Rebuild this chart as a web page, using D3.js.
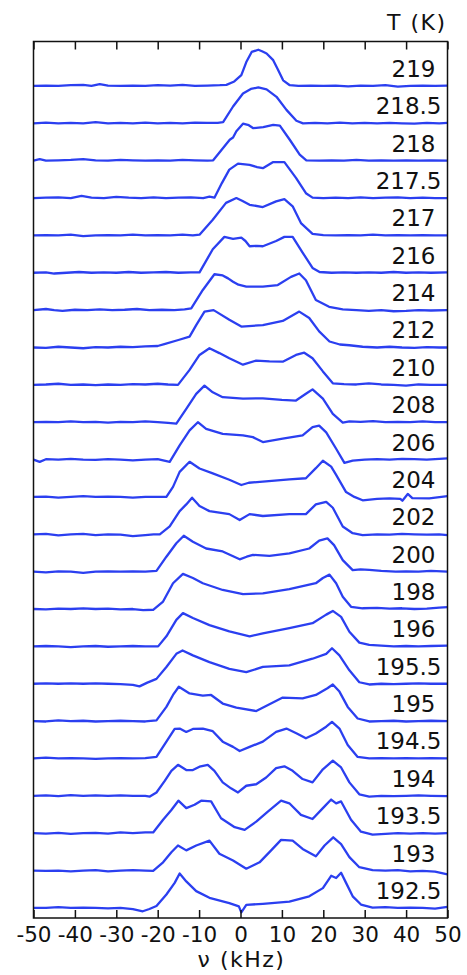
<!DOCTYPE html>
<html>
<head>
<meta charset="utf-8">
<script src="https://cdn.jsdelivr.net/npm/d3@7"></script>
<style>
body { margin: 0; background: #fff; }
text { font-family: "DejaVu Sans", sans-serif; fill: #111; }
.trace { fill: none; stroke: #2b3ff0; stroke-width: 2.3; stroke-linejoin: round; }
.axis line { stroke: #111; stroke-width: 1.5; }
.axis path { display: none; }
</style>
</head>
<body>
<script>
// temperatures, top trace first
var temperatures = ["219", "218.5", "218", "217.5", "217", "216", "214", "212",
    "210", "208", "206", "204", "202", "200", "198", "196", "195.5", "195",
    "194.5", "194", "193.5", "193", "192.5"];

// spectra: [frequency (kHz), intensity], one list per temperature
var spectra = [
  [[-50,0],[-47,0.01],[-44,0],[-41,0.02],[-38,0.03],[-36,0],[-34,0.05],[-32,0.01],[-29,0],[-26,0.01],[-23,0],[-20,0.02],[-17,0.01],[-14,0.03],[-11,0],[-8,0.01],[-5,0.02],[-3.4,0.03],[-1.5,0.12],[0.2,0.29],[1.4,0.64],[2.7,0.91],[4.3,0.97],[5.2,0.93],[6.3,0.87],[7.9,0.69],[9,0.45],[10.3,0.15],[11.9,0.02],[14,0],[17,0.01],[20,0],[23,0.01],[26,-0.01],[29,0.01],[32,0],[35,0.02],[38,-0.02],[41,0],[44,0.01],[47,0],[50,0.01]],
  [[-50,0],[-47,0.02],[-44,0],[-41,0.01],[-38,0],[-35,0.03],[-32,0],[-29,0.01],[-26,0],[-23,0.02],[-20,0],[-17,0.01],[-14,0],[-11,0.02],[-8,0.01],[-5.5,0.01],[-4.2,0.03],[-1.8,0.45],[0.6,0.8],[2.5,0.92],[4.3,0.96],[6.3,0.91],[8.7,0.71],[11.1,0.36],[13.5,0.07],[15.1,0],[18,0.01],[21,0],[24,0.02],[27,0],[30,0.01],[33,0],[36,0.01],[39,0],[42,-0.01],[45,0.01],[48,0],[50,0.01]],
  [[-50,0],[-48.5,0.04],[-47,0],[-44,0.01],[-41,0.02],[-38,0.04],[-35,0.01],[-32,0],[-29,0.02],[-26,0.01],[-23,0],[-20,0.01],[-17,0],[-14,0.02],[-11,0.01],[-8,0],[-6.6,0.01],[-4.5,0.3],[-2.6,0.56],[-1.8,0.62],[-1.0,0.79],[0.6,0.99],[2,0.95],[3.1,0.87],[5.5,0.9],[7.9,0.96],[9.5,0.94],[11.9,0.56],[14.3,0.16],[15.9,0.01],[19,0],[22,0.01],[25,0],[28,0.02],[31,0],[34,0.01],[37,0],[40,0.01],[43,0],[46,0.01],[50,0]],
  [[-50,0],[-47,0.01],[-44,0.02],[-41,0],[-38.4,0.06],[-36,0.01],[-33,0],[-30,0.03],[-27,0.01],[-24,0],[-21,0.02],[-18,0],[-15,0.01],[-12,0.02],[-9,0],[-7.5,0.04],[-6.3,0.01],[-4.5,0.4],[-2.7,0.76],[-0.6,0.92],[2.2,0.89],[4,0.83],[5.4,0.8],[7.8,0.96],[10.6,0.96],[13.4,0.54],[15.8,0.13],[17.4,0.01],[20,0],[23,0.01],[26,0],[29,0.02],[32,0],[35,0.01],[38,0.02],[41,0],[44,0.01],[47,0],[50,0]],
  [[-50,0],[-47,0.01],[-44,0],[-41,0.02],[-38,-0.02],[-35,0],[-32,0.01],[-29,0],[-26,0.02],[-23,0],[-20,0.01],[-17,0],[-14,0.02],[-11.5,0],[-9.9,0.02],[-6.7,0.42],[-3.5,0.87],[-1.0,1.0],[0.5,0.92],[2.2,0.82],[5.4,0.76],[8.6,0.91],[10.6,0.97],[12.6,0.78],[14.6,0.33],[17.4,0.04],[20,0.01],[23,0],[26,0.01],[29,0],[32,0.02],[35,0],[38,0.01],[41,0],[44,0.01],[47,0],[50,0]],
  [[-50,0],[-47,0.01],[-45,-0.02],[-42,0],[-39,0.02],[-36,0],[-33,0.01],[-30,0],[-27,0.02],[-24,0],[-21,0.01],[-18,0.02],[-15,0],[-12,0.01],[-9.9,0.01],[-6.7,0.63],[-3.9,0.96],[-1.8,0.91],[0.2,0.94],[1.2,0.85],[2.2,0.71],[4,0.72],[5.4,0.71],[8.6,0.85],[10.6,0.96],[12.6,0.96],[15.0,0.54],[17.4,0.13],[19.1,0.02],[22,0],[25,0.01],[28,0],[31,0.01],[34,0],[37,0.02],[40,0],[43,0.01],[46,0],[50,0.01]],
  [[-50,0],[-47,0.03],[-45,0],[-43,-0.02],[-40,0.01],[-37,0],[-34,0.02],[-31,0],[-28,0.01],[-25,0.03],[-22,0],[-19,0.01],[-16,0],[-13.5,0.02],[-11.9,0.05],[-9.1,0.54],[-6.3,0.96],[-4.3,0.93],[-3,0.85],[-1.8,0.76],[-0.5,0.68],[1.4,0.63],[5.4,0.63],[9.0,0.67],[12.2,0.89],[14.2,0.98],[15.8,0.8],[18.2,0.27],[21.4,0.09],[24.7,0.02],[28,0],[31,-0.02],[34,0],[37,-0.03],[40,-0.02],[43,0],[46,-0.01],[50,0]],
  [[-50,0],[-47,-0.01],[-44,0.02],[-41,0],[-38,-0.02],[-35,0.01],[-32,0],[-29,0.02],[-26,0.01],[-23,0.03],[-20,0.04],[-18.4,0.09],[-15,0.2],[-12.3,0.29],[-10.7,0.6],[-8.7,0.96],[-6.5,1.0],[-5.9,0.96],[-2.7,0.74],[0.2,0.56],[5.4,0.6],[10.2,0.71],[14.2,0.96],[16.6,0.79],[19.0,0.43],[21.5,0.16],[24,0.08],[26.3,0.06],[29.5,0.02],[33,0],[36,0.02],[39,0],[42,-0.01],[45,0.01],[48,0],[50,0]],
  [[-50,0],[-47,0.01],[-44,0.03],[-41,0],[-38,0.01],[-35,-0.01],[-32,0.01],[-29,0],[-26,0.02],[-23,0.01],[-20,0.03],[-17.5,0.01],[-15.1,0],[-12.3,0.4],[-9.9,0.8],[-7.5,0.98],[-5.1,0.85],[-2.7,0.71],[0.6,0.54],[3.8,0.65],[7,0.63],[10.2,0.62],[13.4,0.8],[15.4,0.86],[17.4,0.71],[19.9,0.36],[22.3,0.04],[25,0.02],[28,0.01],[31,0.04],[34,0.01],[37,0],[40,-0.02],[43,0.01],[46,0],[50,0]],
  [[-50,0],[-47,0.01],[-44,0],[-41,0.02],[-38,0],[-35,0.01],[-32,-0.01],[-29,0.01],[-26,0],[-23,0.02],[-20,0],[-17.5,-0.02],[-15.5,-0.04],[-13.1,0.36],[-10.7,0.76],[-8.7,0.98],[-6.7,0.8],[-4.3,0.67],[0.6,0.63],[5.4,0.64],[10,0.6],[13.4,0.58],[15.8,0.76],[17.4,0.88],[19.9,0.63],[22.3,0.22],[24.7,-0.01],[26.3,0.02],[29,0.01],[32,0.03],[35,0],[38,0.01],[41,0],[44,0.02],[47,0],[50,0]],
  [[-50,0],[-48.5,-0.06],[-47,0.01],[-44,0],[-41,0.02],[-38,0],[-35,-0.01],[-32,0.01],[-29,0],[-26,-0.02],[-23,0],[-20,0.01],[-17.1,-0.06],[-14.7,0.38],[-12.3,0.78],[-10.3,1.0],[-8.3,0.82],[-4.3,0.69],[0.6,0.65],[3,0.6],[5.4,0.47],[10.2,0.56],[15.0,0.65],[17.4,0.87],[19.0,0.91],[20.7,0.73],[23.1,0.29],[25.1,-0.09],[27.1,-0.03],[30,0],[33,0.01],[36,0],[39,0.02],[42,0.01],[45,0],[48,0.02],[50,0.03]],
  [[-50,0],[-47,0.01],[-44,-0.02],[-41,0],[-38,0.02],[-35,0],[-32,0.01],[-29,0],[-26,-0.02],[-23,0],[-20,0],[-17.9,0],[-16.3,0.27],[-14.7,0.67],[-12.3,0.94],[-9.9,0.76],[-6.7,0.63],[-2.7,0.46],[0.2,0.32],[2,0.38],[5.4,0.41],[11.8,0.47],[15.8,0.5],[18.2,0.77],[19.9,0.97],[21.9,0.81],[23.1,0.59],[25.5,0.13],[27.5,0],[29.5,-0.09],[33,-0.05],[36,-0.04],[38.6,-0.05],[39.1,-0.1],[40.4,0.08],[41.5,-0.03],[45.6,-0.04],[50,0.02]],
  [[-50,0],[-47,0.01],[-44,-0.03],[-41,0],[-38,0.01],[-35,-0.02],[-32,0],[-29,-0.01],[-26,-0.05],[-23,-0.02],[-21,0],[-19.5,0],[-17.1,0.21],[-14.7,0.62],[-13.1,0.8],[-11.7,0.98],[-9.9,0.76],[-7.5,0.62],[-2.7,0.54],[-0.2,0.38],[2.2,0.54],[5.4,0.49],[11.8,0.54],[15.8,0.54],[18.2,0.8],[20.7,0.87],[22.3,0.71],[24.7,0.21],[27.1,0.03],[29.5,-0.02],[33,0],[36,-0.01],[39,0.01],[42,0],[45,-0.01],[48,0],[50,-0.02]],
  [[-50,0],[-47,-0.02],[-44,0.01],[-41,0],[-38,-0.03],[-35,0],[-32,0.01],[-29,0],[-26,0.01],[-23,0],[-20.3,0.02],[-17.9,0.4],[-15.5,0.76],[-13.7,0.96],[-11.5,0.8],[-8.3,0.62],[-4.3,0.54],[-0.2,0.33],[1.5,0.4],[3.0,0.45],[7,0.42],[11.8,0.49],[16.6,0.62],[19,0.83],[21,0.89],[22.6,0.71],[24.7,0.31],[27.1,0.04],[29,0.06],[31.1,0.05],[34,0.02],[37.5,0],[40,0.01],[43,0],[46,0.02],[50,0]],
  [[-50,0],[-47,-0.01],[-44,0.01],[-41,0],[-38,0.02],[-35,0],[-32,0.01],[-29,-0.01],[-26,0],[-23.5,-0.03],[-21.1,-0.02],[-18.7,0.2],[-16.3,0.69],[-13.9,0.94],[-11.5,0.83],[-9.1,0.69],[-4.3,0.51],[0.6,0.4],[5.4,0.42],[11.8,0.53],[18.2,0.69],[19.9,0.83],[21.5,0.92],[23.1,0.69],[24.7,0.33],[26.7,0.06],[29.5,0.02],[33,0.03],[36,0.01],[39,0.02],[42,0],[45,0.01],[48,0.04],[50,0.05]],
  [[-50,0],[-47,0.01],[-44,0],[-41,-0.02],[-38,0],[-35,0.01],[-32,-0.01],[-29,0],[-26,0.01],[-23,0],[-19.9,0],[-17.9,0.27],[-15.5,0.71],[-13.9,0.89],[-11.5,0.76],[-7.5,0.57],[-2.7,0.4],[2.2,0.27],[5.4,0.35],[11.8,0.49],[17.4,0.62],[20.7,0.85],[22.3,0.95],[24.3,0.79],[26.3,0.39],[28.7,0.1],[31.1,0.04],[34,0.02],[37,0],[40,0.01],[43,0],[46,0.01],[50,0.02]],
  [[-50,0],[-47,0.01],[-44,0],[-41,0.01],[-38,0],[-35,0.01],[-32,0],[-29,-0.01],[-26,-0.03],[-24.4,-0.07],[-22.5,0.03],[-20.3,0.13],[-17.9,0.45],[-15.5,0.8],[-14,0.89],[-11.5,0.76],[-7.5,0.58],[-2.7,0.4],[1.4,0.31],[5.4,0.45],[11.8,0.49],[17.4,0.67],[20.7,0.8],[22.1,0.95],[23.9,0.76],[26.3,0.36],[28.7,0.04],[31.1,-0.02],[34,0],[37,-0.01],[40,0],[43,0.01],[46,0],[50,0]],
  [[-50,0],[-47,-0.01],[-44,0.02],[-41,0],[-38,0.01],[-35,-0.01],[-32,0],[-29,0.01],[-26,0],[-23,-0.01],[-20.3,0.02],[-17.9,0.38],[-16.3,0.7],[-14.9,0.92],[-12.3,0.74],[-9.1,0.68],[-7.1,0.7],[-4.3,0.47],[-1,0.36],[3.8,0.27],[7,0.45],[10.2,0.63],[15,0.61],[18.2,0.7],[21,0.88],[22.3,0.98],[23.9,0.79],[25.9,0.38],[28.3,0.07],[31.1,-0.01],[34,0],[37,0.01],[40,-0.01],[43,0],[46,0.01],[50,0]],
  [[-50,0],[-47,0.02],[-44,0],[-41,0.01],[-38,0],[-35,-0.01],[-32,0],[-29,0.01],[-26,0],[-23,0.01],[-20.3,0.04],[-17.9,0.45],[-15.9,0.79],[-14.7,0.8],[-13.1,0.71],[-11.5,0.79],[-9.1,0.8],[-6.7,0.73],[-4.3,0.45],[-1.8,0.31],[-0.2,0.2],[2.2,0.31],[5.4,0.45],[8.6,0.71],[11.1,0.8],[13.6,0.67],[15.8,0.54],[18.2,0.67],[20.7,0.85],[22.1,0.98],[23.9,0.8],[25.9,0.36],[28.3,0.04],[31.1,0],[34,0.01],[37,0],[40,0.01],[43,0],[46,0.01],[50,0]],
  [[-50,0],[-47,0.01],[-44,-0.01],[-41,0.02],[-38,0],[-35,0.01],[-32,0],[-29,0.01],[-26,0],[-23,0],[-21.9,-0.02],[-20.3,0.09],[-18.3,0.4],[-16.7,0.67],[-15.1,0.83],[-13.1,0.69],[-11.5,0.69],[-9.9,0.78],[-7.9,0.83],[-6.3,0.67],[-4.3,0.36],[-2.3,0.2],[-0.6,0.09],[1.4,0.27],[3.8,0.31],[6.2,0.49],[8.6,0.74],[10.6,0.79],[12.6,0.67],[15,0.45],[17.4,0.36],[19.9,0.71],[22.3,0.94],[24.3,0.76],[26.3,0.36],[28.7,0.04],[31.1,-0.02],[34,0],[37,-0.01],[40,0],[43,0.01],[46,0],[50,-0.01]],
  [[-50,0],[-47,-0.01],[-44,0.01],[-41,-0.02],[-38,0],[-35,0.01],[-32,-0.01],[-29,0.02],[-26,0],[-23,0.02],[-21.1,0.02],[-18.7,0.36],[-16.7,0.62],[-15,0.87],[-13.1,0.67],[-11.1,0.76],[-9.5,0.87],[-7.1,0.85],[-4.7,0.4],[-1.4,0.16],[1,0.09],[3.8,0.31],[6.6,0.58],[9.8,0.87],[11.8,0.8],[14.6,0.49],[17.4,0.38],[19.9,0.67],[21.9,0.9],[23.1,0.8],[24.3,0.85],[26.7,0.36],[29.1,0.04],[31.9,-0.04],[35,-0.02],[38,0],[41,-0.01],[44,0],[47,-0.01],[50,0]],
  [[-50,0],[-47,-0.01],[-44,0],[-41,-0.02],[-38,0],[-35,0.01],[-32,-0.02],[-29,0],[-26,0.01],[-23,0],[-21.1,-0.01],[-18.7,0.22],[-16.7,0.49],[-15.1,0.67],[-13.1,0.54],[-10.7,0.67],[-7.5,0.8],[-5.1,0.45],[-1.8,0.27],[1.4,0.05],[4.6,0.22],[7.4,0.54],[9.8,0.82],[12.6,0.8],[15,0.58],[18.2,0.38],[20.3,0.67],[22.4,0.89],[24.3,0.71],[26.3,0.36],[28.7,0.09],[31.9,0.01],[35,0],[38,0.01],[41,-0.02],[44,-0.01],[47,-0.03],[50,-0.1]],
  [[-50,0],[-47,0],[-44,0.02],[-41,0],[-38,0.01],[-35,0],[-32,-0.01],[-29,0],[-26,-0.03],[-23.6,-0.09],[-22,-0.03],[-20.3,0.05],[-17.9,0.36],[-15.9,0.67],[-14.7,0.92],[-13.1,0.71],[-10.7,0.45],[-7.5,0.27],[-2.7,0.13],[-0.4,0.04],[0.2,-0.12],[1.4,0.08],[5.4,0.11],[11.8,0.17],[16.6,0.31],[19.9,0.53],[21.9,0.86],[23.1,0.8],[24.3,0.94],[25.5,0.67],[27.1,0.31],[29.1,0.09],[31.9,0.01],[35,0.02],[38,0],[41,0.01],[44,0],[47,-0.02],[50,0.03]]
];

var freq_ticks = [-50, -40, -30, -20, -10, 0, 10, 20, 30, 40, 50];
var x_label = "\u03bd (kHz)";
var t_label = "T (K)";

// chart dimensions
var total_w = 467,
    total_h = 975,
    margin = {top: 41.5, right: 19.5, bottom: 57, left: 33.5},
    width = total_w - margin.left - margin.right,
    height = total_h - margin.top - margin.bottom;

var svg = d3.select("body")
        .append("svg")
        .attr("width", total_w)
        .attr("height", total_h)
        .append("g")
        .attr("transform", "translate(" + margin.left + ", " + margin.top + ")");

// scales: each trace is stacked one unit above the next
var n = temperatures.length;
var scale_x = d3.scaleLinear()
        .domain([-50, 50])
        .range([0, width]);
var scale_y = d3.scaleLinear()
        .domain([-0.27, 23.19])
        .range([height, 0]);

// traces
spectra.forEach(function(spec, i){
    var offset = n - 1 - i;
    var line = d3.line()
            .x(function(d){ return scale_x(d[0]); })
            .y(function(d){ return scale_y(offset + d[1]); });

    svg.append("path")
            .attr("class", "trace")
            .attr("d", line(spec));

    var has_dot = temperatures[i].indexOf(".") >= 0;
    svg.append("text")
            .text(temperatures[i])
            .attr("x", width - (has_dot ? 6 : 12))
            .attr("y", scale_y(offset) - 9)
            .attr("text-anchor", "end")
            .style("font-size", "23px");
});

// bottom axis, ticks pointing in
svg.append("g")
        .attr("class", "axis")
        .attr("transform", "translate(0, " + height + ")")
        .call(d3.axisBottom(scale_x)
                .tickValues(freq_ticks)
                .tickSize(-8)
                .tickPadding(9)
                .tickFormat(function(d){ return d < 0 ? "-" + Math.abs(d) : d; }))
        .selectAll("text")
        .style("font-size", "21.5px")
        .style("font-family", "DejaVu Sans")
        .attr("fill", "#111");

// top axis, ticks only
svg.append("g")
        .attr("class", "axis")
        .call(d3.axisTop(scale_x)
                .tickValues(freq_ticks)
                .tickSize(-8)
                .tickFormat(""));

// border
svg.append("rect")
        .attr("x", 0)
        .attr("y", 0)
        .attr("width", width)
        .attr("height", height)
        .style("fill", "none")
        .style("stroke", "#111")
        .style("stroke-width", 1.5);

// x label
svg.append("text")
        .text(x_label)
        .attr("x", width / 2 + 1)
        .attr("y", height + 48.5)
        .attr("text-anchor", "middle")
        .style("letter-spacing", "1.5px")
        .style("font-size", "22px");

// temperature header
svg.append("text")
        .text(t_label)
        .attr("x", width - 1)
        .attr("y", -11.5)
        .attr("text-anchor", "end")
        .style("letter-spacing", "1.5px")
        .style("font-size", "22px");
</script>
</body>
</html>
